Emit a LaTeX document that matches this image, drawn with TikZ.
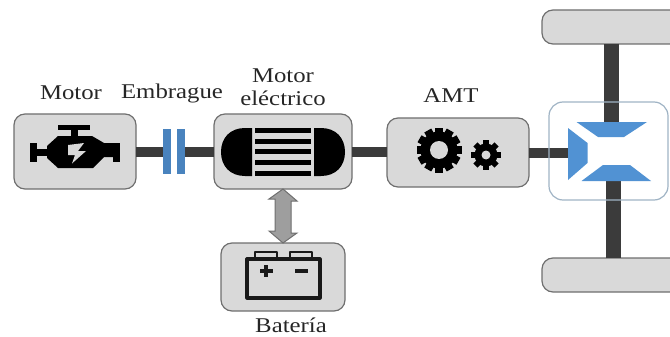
\documentclass[tikz,border=0pt]{standalone}
\usepackage{fontspec}
\setmainfont[FakeStretch=1.18]{Liberation Serif}
\definecolor{boxfill}{HTML}{D9D9D9}
\definecolor{boxline}{HTML}{6F6F6F}
\definecolor{shaftc}{HTML}{3B3B3B}
\definecolor{bluec}{HTML}{5192D3}
\definecolor{diffline}{HTML}{9FB3C4}
\tikzset{
  unit/.style={draw=boxline,fill=boxfill,line width=1.2pt,rounded corners=11pt,inner sep=0pt,outer sep=0pt},
  shaft/.style={draw=shaftc,line width=10pt},
  axle/.style={draw=shaftc,line width=15pt},
  lab/.style={font=\fontsize{21}{23}\selectfont,align=center,inner sep=0pt,text=black!85},
  clutchbar/.style={fill=bluec!90!black,minimum width=8pt,minimum height=45pt,inner sep=0pt,outer sep=0pt},
  gearblue/.style={fill=bluec},
  icon/.style={fill=black},
  iconline/.style={draw=black!90,line join=round},
}
\begin{document}
\begin{tikzpicture}[x=1pt,y=-1pt]
\useasboundingbox (0,0) rectangle (670,337);
\clip (0,0) rectangle (670,337);
% units
\node[unit,minimum width=122pt,minimum height=75pt] (motor) at (75,151.5) {};
\node[unit,minimum width=138pt,minimum height=75pt] (emotor) at (283,151.5) {};
\node[unit,minimum width=142pt,minimum height=69pt] (amt) at (458,152.5) {};
\node[unit,minimum width=124pt,minimum height=68pt] (bat) at (283,277) {};
\node[unit,minimum width=170pt,minimum height=34pt] (wheelA) at (627,27) {};
\node[unit,minimum width=170pt,minimum height=34pt] (wheelB) at (627,275) {};
% clutch
\node[clutchbar] (clA) at (167,151.5) {};
\node[clutchbar] (clB) at (181,151.5) {};
% differential reference points
\coordinate (pin) at (568,152.5);
\coordinate (crownA) at (611.5,122);
\coordinate (crownB) at (613,181);
% connectors
\draw[shaft] (motor.east) -- (clA.west);
\draw[shaft] (clB.east) -- (emotor.west);
\draw[shaft] (emotor.east) -- (emotor.east -| amt.west);
\draw[shaft] (amt.east) -- (pin);
\draw[axle] (crownA |- wheelA.south) -- (crownA);
\draw[axle] (crownB |- wheelB.north) -- (crownB);
\node[draw=diffline,line width=1.2pt,rounded corners=14pt,minimum width=119pt,minimum height=98pt,inner sep=0pt] (diff) at (608.5,151) {};
\fill[gearblue] (576.5,122) -- (647,122) -- (624,137) -- (598,137) -- cycle;
\fill[gearblue] (581.5,181) -- (651,181) -- (630,165) -- (603,165) -- cycle;
\fill[gearblue] (568,128) -- (587.5,143) -- (587.5,163) -- (568,180) -- cycle;
% double arrow between motor and battery
\draw[draw=boxline,fill=black!38,line width=1pt,line join=miter]
  (emotor.south) -- ++(14,12) -- ++(-6,0) -- ++(0,32) -- ++(6,0)
  -- (bat.north) -- ++(-14,-12) -- ++(6,0) -- ++(0,-32) -- ++(-6,0) -- cycle;
% engine icon
\fill[icon] (58,125) rectangle (90,129.5);
\fill[icon] (71,129) rectangle (78,136);
\fill[icon] (30,143) rectangle (37,162);
\fill[icon] (36,148.5) rectangle (48,155.5);
\fill[icon] (47,146) -- (58,136) -- (92,136) -- (104,143) -- (114,143) -- (114,157) -- (104,157) -- (93,168) -- (58,168) -- (47,158) -- cycle;
\fill[icon] (113,143) rectangle (120,162);
\fill[boxfill] (68,145) -- (84,143) -- (78,151) -- (86,151) -- (72,163.5) -- (75,155) -- (68,155) -- cycle;
% electric motor icon
\fill[icon] (252,128) -- (245,128) .. controls (230,128) and (221,138) .. (221,152) .. controls (221,166) and (230,176) .. (245,176) -- (252,176) -- cycle;
\fill[icon] (314,128) -- (321,128) .. controls (336,128) and (345,138) .. (345,152) .. controls (345,166) and (336,176) .. (321,176) -- (314,176) -- cycle;
\foreach \yy in {128,138.5,149,160,171}
  \fill[icon] (255,\yy) rectangle (311,\yy+5);
% gears
\coordinate (gearL) at (439,150);
\coordinate (gearS) at (486,155);
\foreach \a in {0,30,...,330}
  \fill[icon,rotate around={\a:(gearL)}] ([xshift=-4pt]gearL) ++(0,-22.5) rectangle ++(8,12);
\fill[icon] (gearL) circle[radius=18.5];
\fill[boxfill] (gearL) circle[radius=9];
\foreach \a in {0,45,...,315}
  \fill[icon,rotate around={\a:(gearS)}] ([xshift=-3pt]gearS) ++(0,-15) rectangle ++(6,8);
\fill[icon] (gearS) circle[radius=11.5];
\fill[boxfill] (gearS) circle[radius=4.5];
% battery icon
\draw[iconline,line width=3.2pt] (247,259) rectangle (320,298);
\draw[iconline,line width=2.8pt] (255,259) -- (255,252) -- (277,252) -- (277,259);
\draw[iconline,line width=2.8pt] (290,259) -- (290,252) -- (312,252) -- (312,259);
\fill[black!90] (259.5,269.3) rectangle (272.5,273);
\fill[black!90] (264.2,265) rectangle (267.8,277);
\fill[black!90] (295,269.3) rectangle (308,273);
% labels
\node[lab] (tMotor) at (71,93) {Motor};
\node[lab] (tEmb) at (172,93.5) {Embrague};
\node[lab] (tEm) at (283,87) {Motor\\eléctrico};
\node[lab] (tAmt) at (451,96) {AMT};
\node[lab] (tBat) at (291,325.5) {Batería};
\end{tikzpicture}
\end{document}
